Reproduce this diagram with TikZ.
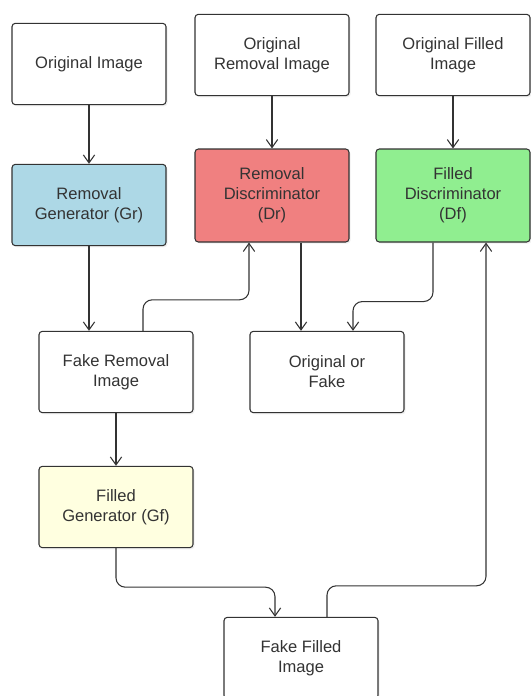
\documentclass[tikz,border=0pt]{standalone}
\usepackage{fontspec}
\setmainfont{Liberation Sans}
\usepackage{tikz}
\usetikzlibrary{arrows.meta,shadows}
\definecolor{edge}{HTML}{333333}
\definecolor{genblue}{HTML}{ADD8E6}
\definecolor{discred}{HTML}{F08080}
\definecolor{discgreen}{HTML}{90EE90}
\definecolor{genyellow}{HTML}{FFFFE0}

\begin{document}
\begin{tikzpicture}[x=.75pt,y=-.75pt,
  box/.style={draw=edge,line width=.8pt,rounded corners=2.5pt,fill=white,
    minimum width=115.5pt,minimum height=61pt,align=center,text=edge,
    font=\fontsize{12.4}{15}\selectfont,
    drop shadow={opacity=.12,shadow xshift=1.2pt,shadow yshift=-1.2pt}},
  tall/.style={box,minimum height=69.75pt},
  arr/.style={draw=edge,line width=.8pt,rounded corners=7pt,
    -{Straight Barb[length=6pt,width=8.5pt,line width=.8pt]}}]
  \useasboundingbox (0,0) rectangle (531,696);
  \node[box] (orig) at (89,64) {Original Image};
  \node[box] (origR) at (272,55) {Original\\Removal Image};
  \node[box] (origF) at (453,55) {Original Filled\\Image};
  \node[box,fill=genblue] (gr) at (89,205) {Removal\\Generator (Gr)};
  \node[tall,fill=discred] (dr) at (272,195.5) {Removal\\Discriminator\\(Dr)};
  \node[tall,fill=discgreen] (df) at (453,195.5) {Filled\\Discriminator\\(Df)};
  \node[box] (fakeR) at (116,372) {Fake Removal\\Image};
  \node[box] (oof) at (327,372) {Original or\\Fake};
  \node[box,fill=genyellow] (gf) at (116,507) {Filled\\Generator (Gf)};
  \node[box] (fakeF) at (301,658) {Fake Filled\\Image};
  \draw[arr] (orig) -- (gr);
  \draw[arr] (origR) -- (dr);
  \draw[arr] (origF) -- (df);
  \draw[arr] (gr.south) -- (gr.south |- fakeR.north);
  \draw[arr] ([xshift=20.25pt]fakeR.north) -- ++(0,-31) -| ([xshift=-17.25pt]dr.south);
  \draw[arr] ([xshift=-19.5pt]oof.north |- dr.south) -- ([xshift=-19.5pt]oof.north);
  \draw[arr] ([xshift=-15pt]df.south) -- ++(0,59) -| ([xshift=19.5pt]oof.north);
  \draw[arr] (fakeR) -- (gf);
  \draw[arr] (gf.south) -- ++(0,39) -| ([xshift=-19.5pt]fakeF.north);
  \draw[arr] ([xshift=19.5pt]fakeF.north) -- ++(0,-31) -| ([xshift=24.75pt]df.south);
\end{tikzpicture}
\end{document}
